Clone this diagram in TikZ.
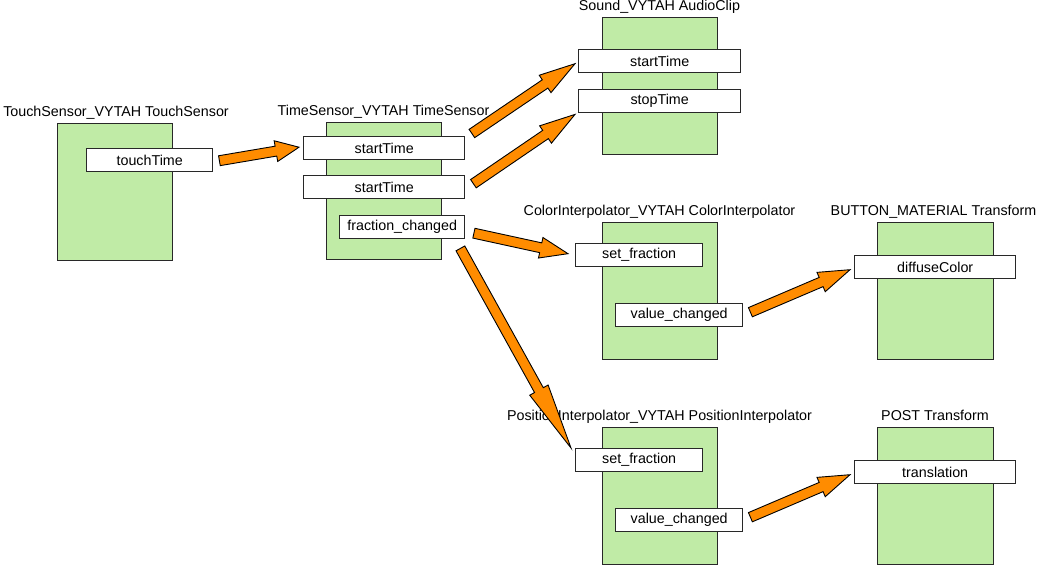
\documentclass[tikz,border=0pt]{standalone}
\usepackage{fontspec}
\setmainfont{Liberation Sans}
\usetikzlibrary{calc}
\definecolor{boxgreen}{RGB}{192,235,166}
\definecolor{arrorange}{RGB}{255,140,0}
\definecolor{edgegray}{RGB}{40,40,40}
\tikzset{
  blk/.style={draw=edgegray, line width=1.4pt, fill=boxgreen, rectangle, inner sep=0pt, minimum width=115pt, minimum height=137pt, anchor=north west},
  fld/.style={draw=edgegray, line width=1.4pt, fill=white, rectangle, inner sep=0pt, minimum height=23pt, anchor=north west, font=\fontsize{14.3}{16}\selectfont},
  ttl/.style={inner sep=0pt, anchor=base, font=\fontsize{14.3}{16}\selectfont},
  barrow/.style={draw=black, line width=0.9pt, fill=arrorange, line join=miter}
}
\newcommand\blockarrow[2]{%
  \coordinate (hb) at ($(#2)!0.29!(#1)$);
  \draw[barrow] ($(#1)!5pt!90:(#2)$) -- ($(hb)!5pt!90:(#2)$) -- ($(hb)!10.5pt!90:(#2)$) -- (#2) -- ($(hb)!10.5pt!-90:(#2)$) -- ($(hb)!5pt!-90:(#2)$) -- ($(#1)!5pt!-90:(#2)$) -- cycle;}
\begin{document}
\begin{tikzpicture}[x=1pt,y=-1pt]
\useasboundingbox (0,0) rectangle (1037,565);
% boxes
\node[blk] (touch) at (57,123) {};
\node[ttl] (touchT) at (116,116) {TouchSensor\_VYTAH TouchSensor};
\node[blk] (time) at (326,122) {};
\node[ttl] (timeT) at (383.5,115) {TimeSensor\_VYTAH TimeSensor};
\node[blk] (sound) at (602,17) {};
\node[ttl] (soundT) at (659.5,10) {Sound\_VYTAH AudioClip};
\node[blk] (color) at (602,222) {};
\node[ttl] (colorT) at (659.5,215) {ColorInterpolator\_VYTAH ColorInterpolator};
\node[blk, minimum width=116pt] (button) at (877,222) {};
\node[ttl] (buttonT) at (933.5,215) {BUTTON\_MATERIAL Transform};
\node[blk] (pos) at (602,427) {};
\node[ttl] (posT) at (659.5,420) {PositionInterpolator\_VYTAH PositionInterpolator};
\node[blk, minimum width=116pt] (post) at (877,427) {};
\node[ttl] (postT) at (935,420) {POST Transform};
% fields
\node[fld, minimum width=126pt] (tt) at (86,148) {touchTime};
\node[fld, minimum width=161pt] (st1) at (303,136) {startTime};
\node[fld, minimum width=161pt] (st2) at (303,175) {startTime};
\node[fld, minimum width=125pt] (fc) at (339,215) {fraction\_changed};
\node[fld, minimum width=162pt] (sst) at (578,49) {startTime};
\node[fld, minimum width=162pt] (sstop) at (578,89) {stopTime};
\node[fld, minimum width=127pt] (csf) at (575,243) {set\_fraction};
\node[fld, minimum width=127pt] (cvc) at (615,303) {value\_changed};
\node[fld, minimum width=161pt] (dc) at (854,255) {diffuseColor};
\node[fld, minimum width=127pt] (psf) at (575,448) {set\_fraction};
\node[fld, minimum width=127pt] (pvc) at (615,508) {value\_changed};
\node[fld, minimum width=161pt] (tr) at (854,460) {translation};
% arrow endpoints
\coordinate (a1s) at ($(tt.east)+(6,0.5)$);
\coordinate (a1e) at ($(st1.west)+(-4,-1)$);
\coordinate (a2s) at ($(st1.north east)+(6.5,-2.5)$);
\coordinate (a2e) at ($(sst.west)+(-3,2.5)$);
\coordinate (a3s) at ($(st2.east)+(8,-3.5)$);
\coordinate (a3e) at ($(sstop.south west)+(-3,1)$);
\coordinate (a4s) at ($(fc.east)+(8.5,6)$);
\coordinate (a4e) at ($(csf.west)+(-7,-1.5)$);
\coordinate (a5s) at ($(fc.south east)+(-5,9)$);
\coordinate (a5e) at ($(psf.north west)+(-4,0)$);
\coordinate (a6s) at ($(cvc.east)+(7,-3)$);
\coordinate (a6e) at ($(dc.west)+(-4,2.5)$);
\coordinate (a7s) at ($(pvc.east)+(7,-3)$);
\coordinate (a7e) at ($(tr.west)+(-4,2.5)$);
% arrows
\blockarrow{a1s}{a1e}
\blockarrow{a2s}{a2e}
\blockarrow{a3s}{a3e}
\blockarrow{a4s}{a4e}
\blockarrow{a5s}{a5e}
\blockarrow{a6s}{a6e}
\blockarrow{a7s}{a7e}
\end{tikzpicture}
\end{document}
